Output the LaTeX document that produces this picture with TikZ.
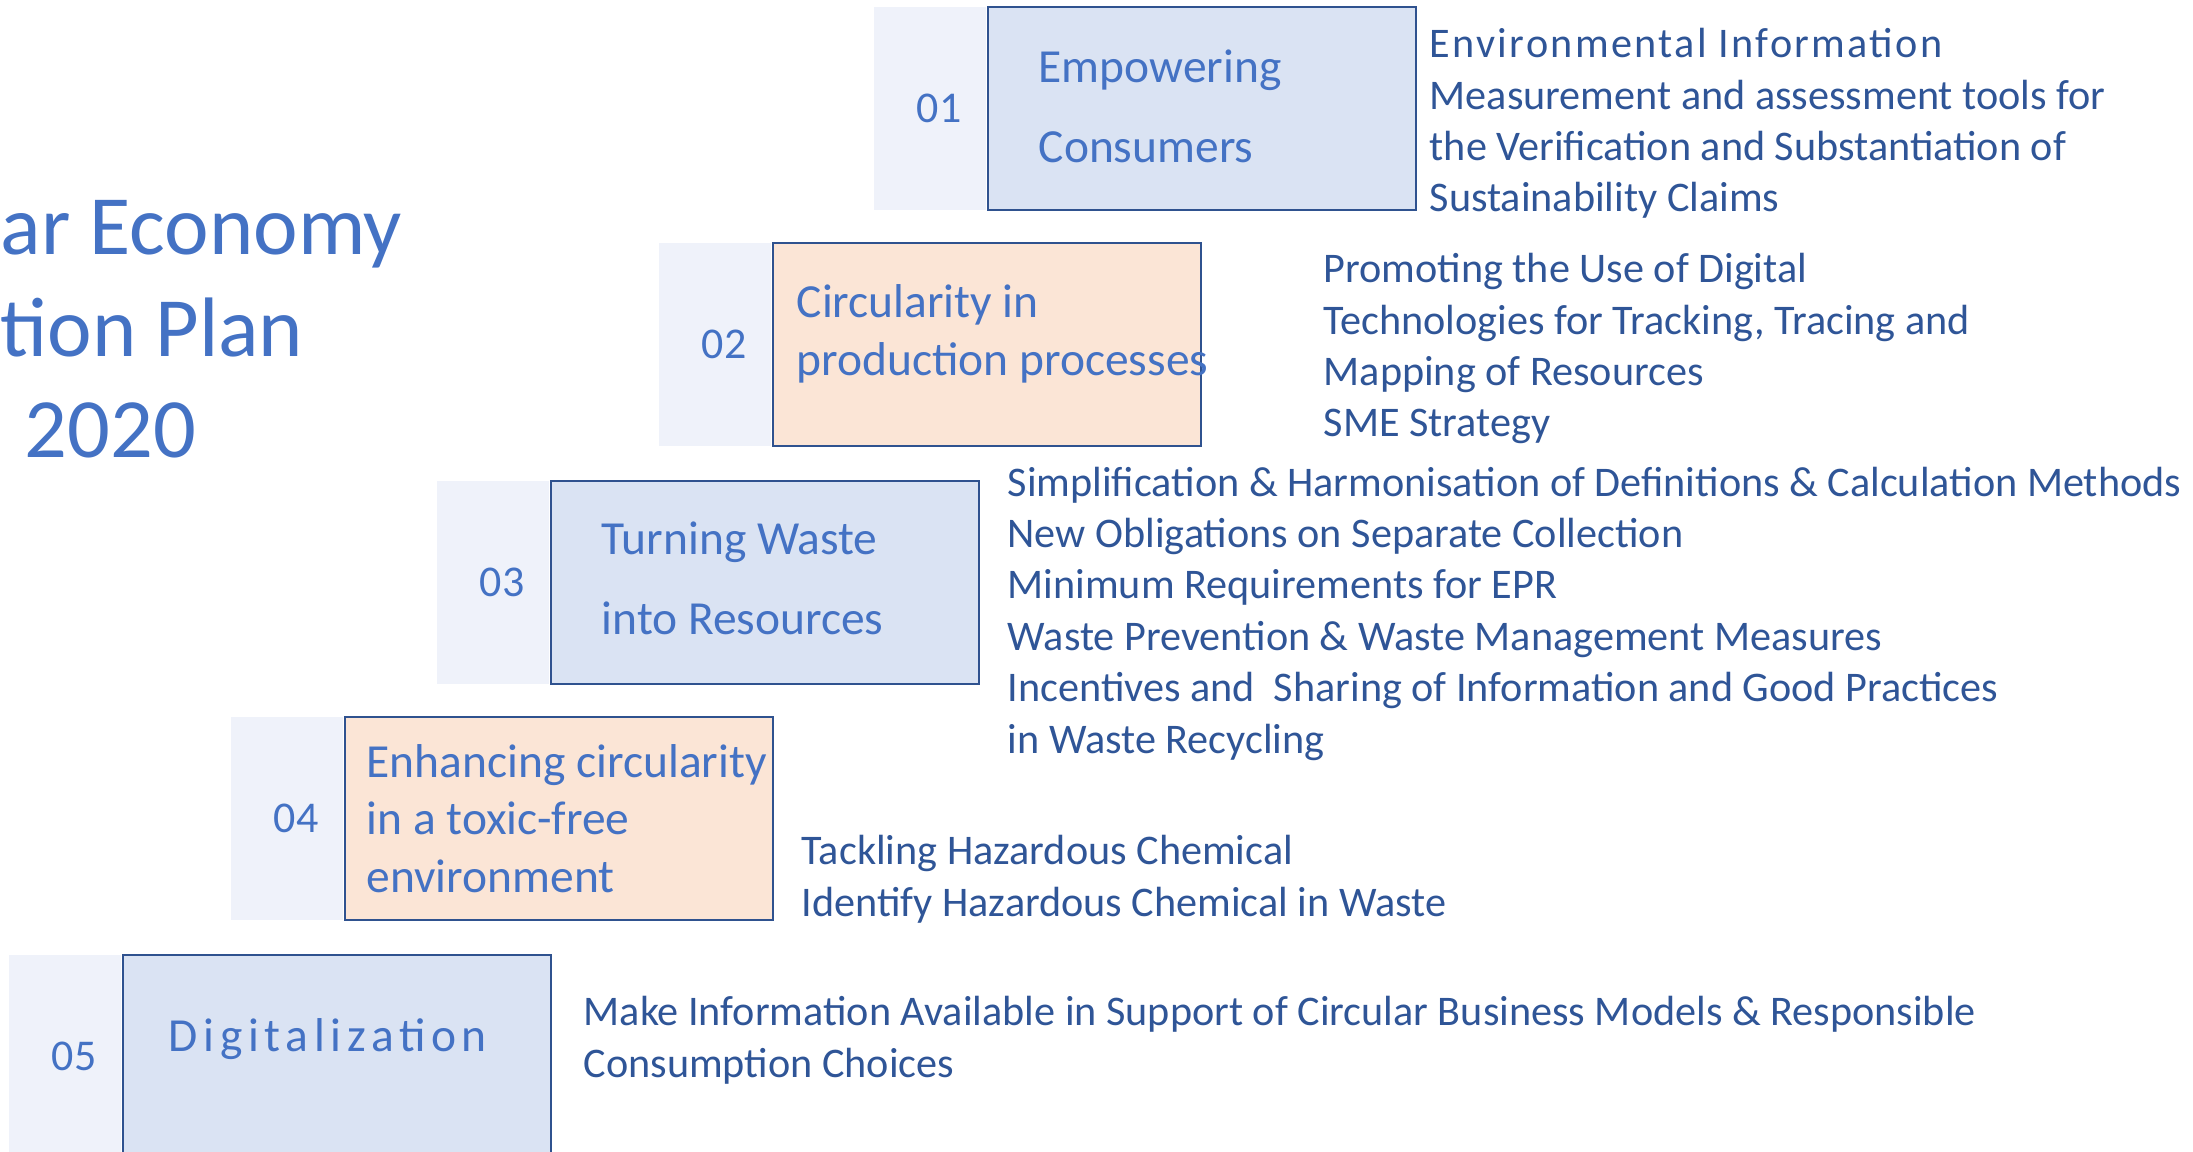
\documentclass[tikz,border=0pt]{standalone}
\usepackage{fontspec}
\setmainfont{Carlito}
\newfontfamily\widefont[LetterSpace=5.5]{Carlito}
\newfontfamily\widerfont[LetterSpace=12]{Carlito}
\usetikzlibrary{positioning}
\definecolor{ce_text}{HTML}{4472C4}
\definecolor{ce_dark}{HTML}{2F5597}
\definecolor{ce_line}{HTML}{2F528F}
\definecolor{ce_blue}{HTML}{DAE3F3}
\definecolor{ce_orange}{HTML}{FBE5D6}
\definecolor{ce_band}{HTML}{EFF2FA}

\begin{document}
\begin{tikzpicture}[
                x=0.01cm, y=-0.01cm,
                stepbox/.style={rectangle, draw=ce_line, line width=0.6pt, minimum width=4.28cm, minimum height=2.03cm, anchor=north west, inner sep=0pt},
                band/.style={rectangle, fill=ce_band, minimum width=1.12cm, minimum height=2.03cm, inner sep=0pt},
                num/.style={text=ce_text, font=\fontsize{12.5pt}{14pt}\selectfont, inner sep=0pt},
                boxtxt/.style={text=ce_text, anchor=base west, align=left, inner sep=0pt},
                desc/.style={text=ce_dark, anchor=base west, align=left, inner sep=0pt, font=\fontsize{12pt}{14.6pt}\selectfont}
            ]
                \useasboundingbox (0,0) rectangle (2193,1152);

                % Title (placed by its last baseline)
                \node (title) [text=ce_text, anchor=base west, align=left, inner sep=0pt, font=\fontsize{24pt}{29pt}\selectfont] at (0,458) {ar Economy\\tion Plan\\\hspace{0.24cm}2020};

                % Steps
                \node (box1) [stepbox, fill=ce_blue] at (987,6) {};
                \node (box2) [stepbox, fill=ce_orange] at (772,242) {};
                \node (box3) [stepbox, fill=ce_blue] at (550,480) {};
                \node (box4) [stepbox, fill=ce_orange] at (344,716) {};
                \node (box5) [stepbox, fill=ce_blue] at (122,954) {};
                \foreach \i in {1,...,5} {
                    \node (band\i) [band, left=0pt of box\i] {};
                    \node (num\i) [num, xshift=0.09cm] at (band\i.center) {0\i};
                }

                % Step titles
                \node (step1) [boxtxt, font=\fontsize{13.5pt}{23pt}\selectfont] at (1038,163) {Empowering\\Consumers};
                \node (step2) [boxtxt, font=\fontsize{13.5pt}{16.7pt}\selectfont] at (796,376) {Circularity in\\production processes};
                \node (step3) [boxtxt, font=\fontsize{13.5pt}{23pt}\selectfont] at (601,635) {Turning Waste\\into Resources};
                \node (step4) [boxtxt, font=\fontsize{13.5pt}{16.3pt}\selectfont] at (366,892) {Enhancing circularity\\in a toxic-free\\environment};
                \node (step5) [boxtxt, font=\widerfont\fontsize{13.5pt}{16pt}\selectfont] at (168,1051) {Digitalization};

                % Actions
                \node (act1) [desc] at (1429,212) {{\widefont Environmental Information}\\Measurement and assessment tools for\\the Verification and Substantiation of\\Sustainability Claims};
                \node (act2) [desc] at (1323,437) {Promoting the Use of Digital\\Technologies for Tracking, Tracing and\\Mapping of Resources\\SME Strategy};
                \node (act3) [desc] at (1007,753) {Simplification \& Harmonisation of Definitions \& Calculation Methods\\New Obligations on Separate Collection\\Minimum Requirements for EPR\\Waste Prevention \& Waste Management Measures\\Incentives and~ Sharing of Information and Good Practices\\in Waste Recycling};
                \node (act4) [desc] at (801,916) {Tackling Hazardous Chemical\\Identify Hazardous Chemical in Waste};
                \node (act5) [desc] at (583,1077) {Make Information Available in Support of Circular Business Models \& Responsible\\Consumption Choices};
            \end{tikzpicture}
\end{document}
